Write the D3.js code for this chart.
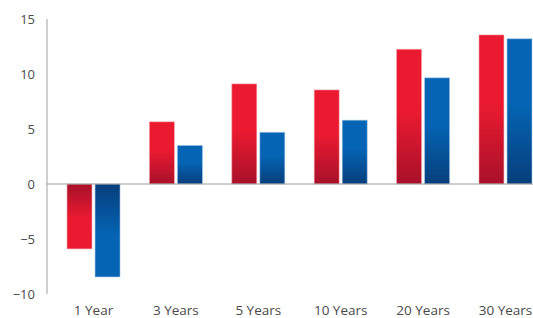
<!DOCTYPE html>
<html>
<head>
<meta charset="utf-8">
<script src="https://cdn.jsdelivr.net/npm/d3@7"></script>
<style>
    body { margin: 0; background: #fff; }
    svg { display: block; }
    text { font-family: "Open Sans", "Noto Sans", sans-serif; fill: #4a4a4a; }
</style>
</head>
<body>
<svg id="vis" width="533" height="318"></svg>
<script>
// periods and the two return series
var periods = ["1 Year", "3 Years", "5 Years", "10 Years", "20 Years", "30 Years"];
var redValues = [-5.9, 5.65, 9.1, 8.55, 12.25, 13.55];
var blueValues = [-8.45, 3.5, 4.7, 5.8, 9.65, 13.2];
var yTicks = [-10, -5, 0, 5, 10, 15];

var w = 533;
var h = 318;

var svg = d3.select("#vis");

var yScale = d3.scaleLinear()
    .domain([-10, 15])
    .range([294, 19]);

var xScale = d3.scaleBand()
    .domain(periods)
    .range([47, 552])
    .paddingInner(0.357)
    .paddingOuter(0.243);

var subScale = d3.scaleBand()
    .domain(["red", "blue"])
    .range([0, xScale.bandwidth()])
    .paddingInner(0.11);

// gradients: bright away from zero, darker close to the zero line
var colours = {
    red: { bright: "#ec1a30", dark: "#a8112a" },
    blue: { bright: "#0564b4", dark: "#073e7b" }
};
var defs = svg.append("defs");
["red", "blue"].forEach(function(c) {
    ["pos", "neg"].forEach(function(sign) {
        var g = defs.append("linearGradient")
            .attr("id", c + "-" + sign)
            .attr("x1", 0).attr("y1", sign == "pos" ? 0 : 1)
            .attr("x2", 0).attr("y2", sign == "pos" ? 1 : 0);
        g.append("stop").attr("offset", "0%").attr("stop-color", colours[c].bright);
        g.append("stop").attr("offset", "45%").attr("stop-color", colours[c].bright);
        g.append("stop").attr("offset", "100%").attr("stop-color", colours[c].dark);
    });
});

// y axis line
svg.append("line")
    .attr("x1", 47).attr("x2", 47)
    .attr("y1", yScale(15)).attr("y2", yScale(-10))
    .attr("stroke", "#b0b0b0")
    .attr("stroke-width", 1.2);

// tick labels
svg.selectAll("text.ytick")
    .data(yTicks)
    .enter()
    .append("text")
    .attr("class", "ytick")
    .attr("x", 35)
    .attr("y", function(d) { return yScale(d); })
    .attr("dy", "0.35em")
    .attr("text-anchor", "end")
    .style("font-size", "13px")
    .text(function(d) { return d < 0 ? "\u2212" + Math.abs(d) : d; });

var rows = periods.map(function(p, i) {
    return { period: p, red: redValues[i], blue: blueValues[i] };
});

var groups = svg.selectAll("g.group")
    .data(rows)
    .enter()
    .append("g")
    .attr("class", "group")
    .attr("transform", function(d) { return "translate(" + xScale(d.period) + ",0)"; });

groups.selectAll("rect")
    .data(function(d) {
        return ["red", "blue"].map(function(k) { return { key: k, value: d[k] }; });
    })
    .enter()
    .append("rect")
    .attr("x", function(d) { return subScale(d.key); })
    .attr("width", subScale.bandwidth())
    .attr("y", function(d) { return yScale(Math.max(0, d.value)); })
    .attr("height", function(d) { return Math.abs(yScale(d.value) - yScale(0)); })
    .attr("fill", function(d) { return "url(#" + d.key + "-" + (d.value >= 0 ? "pos" : "neg") + ")"; })
    .attr("stroke", function(d) { return d.key == "red" ? "#f5a0a8" : "#9cc0e4"; })
    .attr("stroke-width", 0.8)
    .attr("stroke-opacity", 0.7);

// zero line
svg.append("line")
    .attr("x1", 47).attr("x2", w)
    .attr("y1", yScale(0)).attr("y2", yScale(0))
    .attr("stroke", "#a0a0a0")
    .attr("stroke-width", 1.2);

// category labels
svg.selectAll("text.xlabel")
    .data(periods)
    .enter()
    .append("text")
    .attr("class", "xlabel")
    .attr("x", function(d) { return xScale(d) + xScale.bandwidth() / 2; })
    .attr("y", 315)
    .attr("text-anchor", "middle")
    .style("font-size", "13.5px")
    .text(function(d) { return d; });
</script>
</body>
</html>
